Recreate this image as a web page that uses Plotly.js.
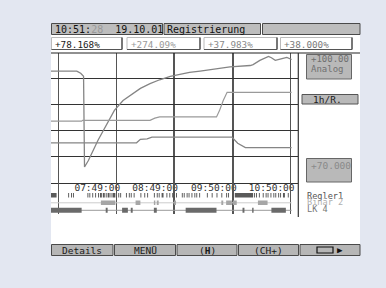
<!DOCTYPE html>
<html><head><meta charset="utf-8">
<script src="https://cdn.plot.ly/plotly-3.0.1.min.js"></script>
<style>html,body{margin:0;padding:0;background:#e3e7f1;}#chart{width:386px;height:288px;}</style>
</head><body><div id="chart"></div>
<script>
const tickTimes  = ["06:49", "07:49", "08:49", "09:50", "10:50"];
const tickLabels = ["", "07:49:00", "08:49:00", "09:50:00", "10:50:00"];

const curveATimes  = ["06:41","07:08","07:12","07:15","07:16","07:20","07:30","07:39","07:47","07:56","08:05","08:14","08:24","08:34","08:45","08:55","09:05","09:16","09:30","09:47","10:08","10:11","10:18","10:27","10:30","10:34","10:41","10:46","10:51"];
const curveAValues = [95.8,95.8,95.3,94.6,73.6,75.1,79.8,83.6,86.7,89.0,90.5,91.8,92.9,93.8,94.6,95.1,95.5,95.8,96.3,96.8,97.1,97.3,98.3,99.2,98.9,98.3,98.7,99.0,98.5];

const curveBTimes  = ["06:41","07:13","07:14","08:24","08:29","08:34","09:33","09:36","09:40","09:44","10:51"];
const curveBValues = [84.2,84.2,84.4,84.4,84.9,85.2,85.2,86.6,89.0,90.9,90.9];

const curveCTimes  = ["06:41","08:10","08:14","08:21","08:26","09:49","09:55","10:03","10:51"];
const curveCValues = [79.2,79.2,80.0,80.1,80.5,80.5,79.1,78.1,78.1];

const binaryNames = ["Regler1", "Binär 2", "LK 4"];
const regler1On = [["06:41","06:47"],["06:59","07:00"],["07:02","07:03"],["07:04","07:05"],["07:19","07:20"],["07:21","07:22"],["07:24","07:25"],["07:27","07:28"],["07:30","07:31"],["07:32","07:34"],["07:35","07:37"],["07:38","07:39"],["07:40","07:42"],["07:43","07:44"],["07:45","07:48"],["07:51","07:52"],["07:53","07:54"],["07:59","08:00"],["08:02","08:03"],["08:04","08:05"],["08:07","08:08"],["08:14","08:15"],["08:18","08:19"],["08:21","08:22"],["08:28","08:29"],["08:31","08:32"],["08:33","08:34"],["08:36","08:38"],["08:41","08:42"],["08:44","08:45"],["08:47","08:48"],["08:51","08:52"],["08:57","08:58"],["08:59","09:00"],["09:02","09:03"],["09:04","09:05"],["09:07","09:08"],["09:10","09:11"],["09:12","09:13"],["09:15","09:16"],["09:23","09:24"],["09:28","09:29"],["09:33","09:34"],["09:38","09:39"],["09:43","09:44"],["09:45","09:46"],["09:52","10:11"],["10:12","10:13"],["10:14","10:15"],["10:17","10:18"],["10:21","10:22"],["10:24","10:25"],["10:26","10:27"],["10:29","10:30"],["10:32","10:33"],["10:34","10:35"],["10:37","10:38"],["10:39","10:40"],["10:42","10:44"],["10:47","10:48"]];
const binaer2On = [["07:33","07:48"],["08:09","08:14"],["08:28","08:29:30"],["08:31","08:33"],["08:49","08:51"],["09:38","09:40"],["09:43","09:49"],["09:50","09:54"],["10:16","10:26"]];
const lk4On = [["06:41","07:13"],["07:38","07:40"],["07:55","08:01"],["08:04","08:06"],["08:28","08:31"],["09:01","09:33"],["10:00","10:02"],["10:10","10:11:30"],["10:30","10:45"]];
const recordSpan = ["06:41", "10:51"];

const statusTime = "10:51:", statusSec = "28", statusDate = "19.10.01", statusMode = "Registrierung";
const channelValues = ["+78.168%", "+274.09%", "+37.983%", "+38.000%"];
const channelColors = ["#1a1a1a", "#9a9a9a", "#8a8a8a", "#7a7a7a"];
const scaleTop = "+100.00", scaleName = "Analog", scaleBottom = "+70.000", speed = "1h/R.";
const buttons = ["Details", "MENÜ", "(<b>H</b>)", "(CH+)", ""];

// ---- helpers ----
const D = s => "2001-10-19 " + (s.length === 5 ? s + ":00" : s);
const W = 386, H = 288;
const PX = v => v / W, PY = v => 1 - v / H;
const FONT = "DejaVu Sans Mono";

function segs(list, row) {
  const x = [], y = [];
  list.forEach(p => { x.push(D(p[0]), D(p[1]), null); y.push(row, row, null); });
  return {x, y};
}

const traces = [];
traces.push({x: curveATimes.map(D), y: curveAValues, xaxis:'x', yaxis:'y', mode:'lines', line:{color:'#858585', width:1.3}});
traces.push({x: curveBTimes.map(D), y: curveBValues, xaxis:'x', yaxis:'y', mode:'lines', line:{color:'#9a9a9a', width:1.2}});
traces.push({x: curveCTimes.map(D), y: curveCValues, xaxis:'x', yaxis:'y', mode:'lines', line:{color:'#858585', width:1.3}});
const s1 = segs(regler1On, 1);
traces.push({x: s1.x, y: s1.y, xaxis:'x2', yaxis:'y2', mode:'lines', line:{color:'#5a5a5a', width:4.5}});
traces.push({x: recordSpan.map(D), y: [2, 2], xaxis:'x2', yaxis:'y2', mode:'lines', line:{color:'#cccccc', width:1}});
const s2 = segs(binaer2On, 2);
traces.push({x: s2.x, y: s2.y, xaxis:'x2', yaxis:'y2', mode:'lines', line:{color:'#a6a6a6', width:4.5}});
traces.push({x: recordSpan.map(D), y: [3, 3], xaxis:'x2', yaxis:'y2', mode:'lines', line:{color:'#9a9a9a', width:1}});
const s3 = segs(lk4On, 3);
traces.push({x: s3.x, y: s3.y, xaxis:'x2', yaxis:'y2', mode:'lines', line:{color:'#6a6a6a', width:5}});

// ---- chrome ----
const shapes = [];
const rect = (x0, y0, x1, y1, fill, line, lw, layer) => shapes.push({type:'rect', xref:'paper', yref:'paper', x0:PX(x0), x1:PX(x1), y0:PY(y1), y1:PY(y0), fillcolor:fill, line:{color:line || 'rgba(0,0,0,0)', width: lw === undefined ? 1 : lw}, layer: layer || 'below'});
const hline = (x0, x1, y, color, w) => shapes.push({type:'line', xref:'paper', yref:'paper', x0:PX(x0), x1:PX(x1), y0:PY(y), y1:PY(y), line:{color, width:w}, layer:'above'});
const vline = (x, y0, y1, color, w) => shapes.push({type:'line', xref:'paper', yref:'paper', x0:PX(x), x1:PX(x), y0:PY(y0), y1:PY(y1), line:{color, width:w}, layer:'above'});

rect(51, 23, 360, 256, '#ffffff', null, 0);
rect(51.5, 23.5, 162.5, 34.5, '#bdbdbd', '#4a4a4a', 1);
rect(164, 23.5, 260.5, 34.5, '#bdbdbd', '#4a4a4a', 1);
rect(262.5, 23.5, 360, 34.5, '#bdbdbd', '#4a4a4a', 1);
const vbx = [[51.5,122],[127,200],[204,277],[280.5,352]];
vbx.forEach(b => { rect(b[0], 37.5, b[1], 49.5, '#ffffff', '#bbbbbb', 1); hline(b[0], b[1], 49.5, '#555', 1.2); vline(b[1], 37.5, 49.5, '#555', 1.5); });
hline(51, 360, 53, '#222', 1.2);
vline(298.3, 53, 217, '#333', 1.2);
rect(306.5, 54.5, 351.5, 79, '#b9b9b9', '#666', 1);
rect(302, 94.5, 358, 104, '#b9b9b9', '#555', 1);
rect(306.5, 158.5, 351.5, 182, '#b9b9b9', '#666', 1);
const btn = [[51.5,113],[114.5,175.5],[177,237],[238.5,298.5],[300,360]];
btn.forEach(b => rect(b[0], 244.5, b[1], 255.5, '#b6b6b6', '#4a4a4a', 1));
rect(317, 247, 333, 253, 'rgba(0,0,0,0)', '#111', 1.2, 'above');

const ann = [];
const txt = (text, x, y, size, color, anchor) => ann.push({text, x:PX(x), y:PY(y), xref:'paper', yref:'paper', xanchor: anchor || 'left', yanchor:'middle', showarrow:false, font:{family:FONT, size, color}});
txt(statusTime + '<span style="color:#999">' + statusSec + '</span>  ' + statusDate, 53, 29.5, 10, '#111');
txt(statusMode, 165, 29.5, 10, '#111');
channelValues.forEach((v, i) => txt(v, vbx[i][0] + 1.5, 44, 9.3, channelColors[i]));
txt(scaleTop, 309, 59, 9, '#707070');
txt(scaleName, 309, 69, 9, '#707070');
txt(speed, 311, 99.5, 9.5, '#222');
txt(scaleBottom, 309, 165, 9.5, '#8a8a8a');
const labColors = ['#555', '#b0b0b0', '#777'];
binaryNames.forEach((n, i) => txt(n, 304.5, 195.5 + i * 6.7, 8.6, labColors[i]));
buttons.forEach((b, i) => { if (b) txt(b, (btn[i][0] + btn[i][1]) / 2, 250, 9.5, '#1a1a1a', 'center'); });
txt('▶', 335, 250, 9, '#111');

const layout = {
  width: W, height: H, margin:{l:0, r:0, t:0, b:0, pad:0},
  paper_bgcolor:'#e3e7f1', plot_bgcolor:'rgba(0,0,0,0)', showlegend:false,
  xaxis:{domain:[PX(51), PX(298)], anchor:'y', type:'date', range:[D("06:41:12"), D("10:57:36")],
    tickmode:'array', tickvals: tickTimes.map(D), ticktext: tickLabels, ticks:'', showgrid:true, gridcolor:'#555', gridwidth:1.6,
    showline:true, linecolor:'#333', linewidth:1, zeroline:false, ticklabelshift:-19, ticklabelstandoff:-4,
    tickfont:{family:FONT, size:9.5, color:'#333'}, fixedrange:true},
  yaxis:{domain:[PY(182.5), PY(53)], anchor:'x', range:[70, 100], tickmode:'array', tickvals:[76, 82, 88, 94],
    showticklabels:false, ticks:'', showgrid:true, gridcolor:'#333', gridwidth:1, zeroline:false, showline:false, fixedrange:true},
  xaxis2:{domain:[PX(51), PX(298)], anchor:'y2', matches:'x', type:'date', tickmode:'array', tickvals: tickTimes.map(D),
    showticklabels:false, ticks:'', showgrid:true, gridcolor:'#555', gridwidth:1.6, zeroline:false, showline:false},
  yaxis2:{domain:[PY(214), PY(182.5)], anchor:'x2', range:[3.493, -0.707], showgrid:false, showticklabels:false,
    ticks:'', zeroline:false, showline:false, fixedrange:true},
  shapes, annotations: ann
};
Plotly.newPlot('chart', traces, layout, {staticPlot:true, displayModeBar:false});
</script></body></html>
